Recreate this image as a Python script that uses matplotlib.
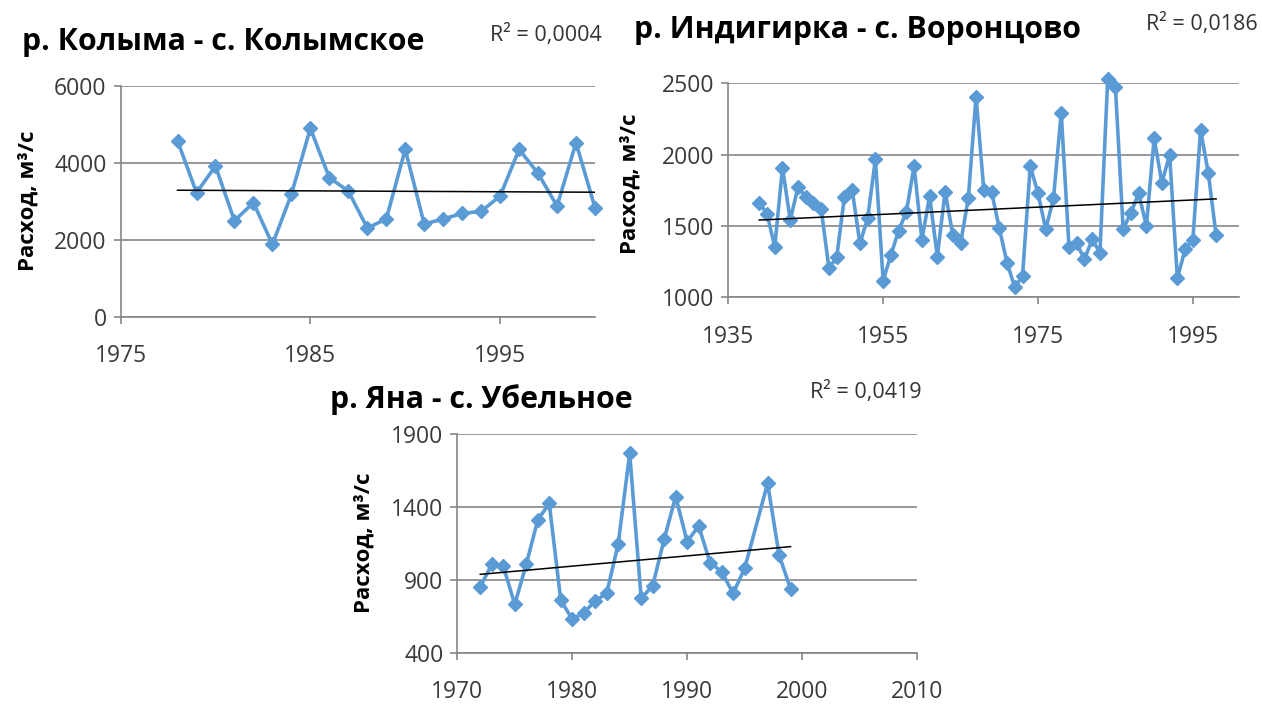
import numpy as np
import matplotlib
matplotlib.use("Agg")
import matplotlib.pyplot as plt

plt.rcParams['font.family'] = ['Open Sans', 'DejaVu Sans']

# р. Колыма - с. Колымское
kolyma_years = list(range(1978, 2001))
kolyma_q = [4572, 3221, 3913, 2494, 2961, 1879, 3177, 4892, 3610, 3264, 2303, 2537,
            4346, 2407, 2537, 2684, 2736, 3134, 4346, 3723, 2874, 4519, 2831]

# р. Индигирка - с. Воронцово
indig_years = list(range(1939, 1999))
indig_q = [1663, 1584, 1355, 1909, 1542, 1771, 1705, 1659, 1617, 1203,
           1280, 1705, 1752, 1378, 1554, 1967, 1117, 1297, 1467, 1600,
           1920, 1402, 1710, 1285, 1741, 1437, 1378, 1694, 2406, 1752,
           1740, 1484, 1243, 1070, 1150, 1920, 1729, 1477, 1694, 2294,
           1355, 1378, 1266, 1406, 1313, 2528, 2472, 1477, 1593, 1729,
           1500, 2114, 1804, 1998, 1133, 1336, 1402, 2173, 1869, 1437]

# р. Яна - с. Убельное (1996 нет данных)
yana_years = list(range(1972, 1996)) + [1997, 1998, 1999]
yana_q = [853, 1007, 995, 732, 1007, 1311, 1426, 762, 629, 675, 755, 808,
          1147, 1769, 773, 860, 1179, 1472, 1163, 1270, 1018, 956, 808, 979,
          1563, 1071, 837]

titles = ["р. Колыма - с. Колымское", "р. Индигирка - с. Воронцово", "р. Яна - с. Убельное"]
r2_labels = ["R² = 0,0004", "R² = 0,0186", "R² = 0,0419"]
ylabel = "Расход, м³/с"

W, H = 1262, 704
fig = plt.figure(figsize=(W / 100, H / 100), dpi=100)

def px_axes(left, top, right, bottom):
    return fig.add_axes([left / W, 1 - bottom / H, (right - left) / W, (bottom - top) / H])

blue = '#5B9BD5'
gray = '#868686'

panels = [
    dict(box=(120.6, 85.7, 595, 316.7), x=kolyma_years, y=kolyma_q,
         xlim=(1975, 2000), xticks=[1975, 1985, 1995], ylim=(0, 6000),
         yticks=[0, 2000, 4000, 6000],
         title_xy=(22, 42), r2_xy=(602, 35), ylab_xy=(28, 201)),
    dict(box=(728.3, 83.3, 1239.3, 297.3), x=indig_years, y=indig_q,
         xlim=(1935, 2001), xticks=[1935, 1955, 1975, 1995], ylim=(1000, 2500),
         yticks=[1000, 1500, 2000, 2500],
         title_xy=(634, 30), r2_xy=(1258, 24), ylab_xy=(630, 184)),
    dict(box=(457.3, 434.3, 917, 652.7), x=yana_years, y=yana_q,
         xlim=(1970, 2010), xticks=[1970, 1980, 1990, 2000, 2010], ylim=(400, 1900),
         yticks=[400, 900, 1400, 1900],
         title_xy=(330, 400), r2_xy=(922, 392), ylab_xy=(364, 543)),
]

for i, p in enumerate(panels):
    ax = px_axes(*p['box'])
    ax.set_xlim(p['xlim'])
    ax.set_ylim(p['ylim'])
    ax.set_xticks(p['xticks'])
    ax.set_yticks(p['yticks'])
    ax.grid(axis='y', color=gray, lw=1.2)
    ax.set_axisbelow(True)
    for s in ['top', 'right']:
        ax.spines[s].set_visible(False)
    for s in ['left', 'bottom']:
        ax.spines[s].set_color(gray)
        ax.spines[s].set_linewidth(1.2)
    ax.tick_params(colors=gray, labelcolor='#3a3a3a', labelsize=16.5, length=5, width=1.2)
    ax.tick_params(axis='y', pad=5)
    ax.tick_params(axis='x', pad=15)

    ax.plot(p['x'], p['y'], color=blue, lw=2.6, marker='D', ms=7.5, clip_on=False, zorder=3)
    k, b = np.polyfit(p['x'], p['y'], 1)
    xs = np.array([min(p['x']), max(p['x'])])
    ax.plot(xs, k * xs + b, color='black', lw=1.1, zorder=4)

    fig.text(p['title_xy'][0] / W, 1 - p['title_xy'][1] / H, titles[i],
             fontsize=21.8, fontweight='bold', ha='left', va='center')
    fig.text(p['r2_xy'][0] / W, 1 - p['r2_xy'][1] / H, r2_labels[i],
             fontsize=15.5, ha='right', va='center', color='#333333')
    fig.text(p['ylab_xy'][0] / W, 1 - p['ylab_xy'][1] / H, ylabel,
             fontsize=16, fontweight='bold', rotation=90, ha='center', va='center')

fig.savefig('out.png', dpi=100)
